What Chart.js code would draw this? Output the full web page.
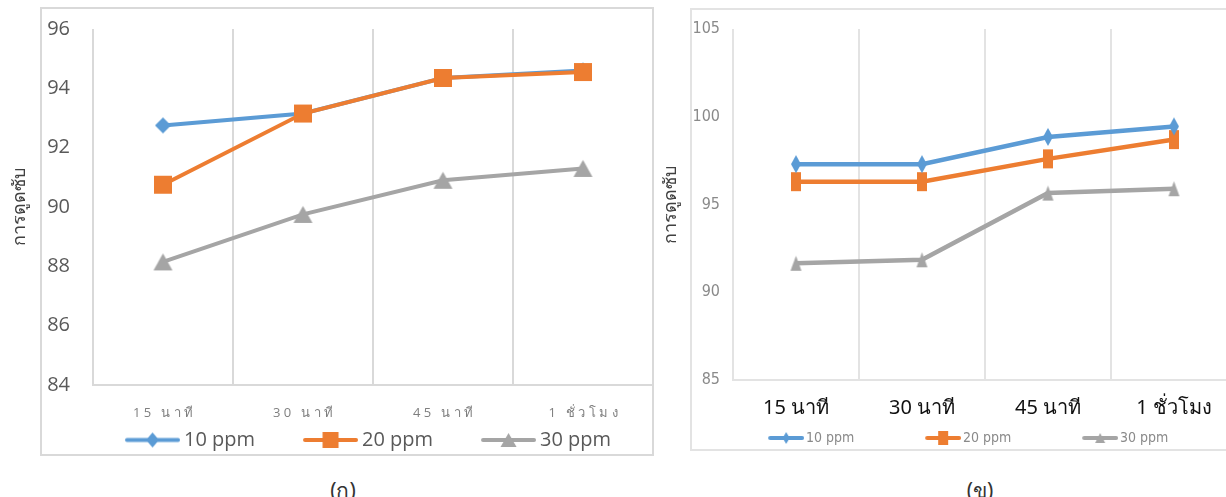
<!DOCTYPE html>
<html>
<head>
<meta charset="utf-8">
<script src="https://cdn.jsdelivr.net/npm/chart.js@4.4.1/dist/chart.umd.min.js"></script>
<style>
html, body { margin: 0; padding: 0; background: #fff; overflow: hidden; width: 1226px; height: 497px; position: relative; }
.box { position: absolute; border: 2px solid #d9d9d9; box-sizing: border-box; }
canvas { position: absolute; top: 0; }
.cap { position: absolute; top: 474px; height: 26px; line-height: 26px; font: 21px 'Noto Sans', sans-serif; color: #333; transform: translateX(-50%); white-space: nowrap; }
</style>
</head>
<body>
<div class="box" style="left:40px;top:7px;width:614px;height:449px"></div>
<div class="box" style="left:690px;top:8px;width:560px;height:443px;border-color:#e3e3e3"></div>
<canvas id="chartA" width="654" height="470" style="left:0"></canvas>
<canvas id="chartB" width="623" height="470" style="left:615px"></canvas>
<div class="cap" style="left:343px">(ก)</div>
<div class="cap" style="left:980px">(ข)</div>
<script>
// shared
const categories = ['15 นาที', '30 นาที', '45 นาที', '1 ชั่วโมง'];
const seriesNames = ['10 ppm', '20 ppm', '30 ppm'];
const seriesColors = ['#5b9bd5', '#ed7d31', '#a5a5a5'];
const seriesShapes = ['diamond', 'square', 'triangle'];
const yTitle = 'การดูดซับ';

// (ก)
const a10 = [92.75, 93.15, 94.35, 94.6];
const a20 = [90.75, 93.15, 94.35, 94.55];
const a30 = [88.15, 89.75, 90.9, 91.3];
const aYTicks = [84, 86, 88, 90, 92, 94, 96];

// (ข)
const b10 = [97.3, 97.3, 98.85, 99.45];
const b20 = [96.3, 96.3, 97.6, 98.7];
const b30 = [91.65, 91.85, 95.65, 95.9];
const bYTicks = [85, 90, 95, 100, 105];

const sansFont = "'Open Sans', 'Noto Sans', sans-serif";
const narrowFont = "'Liberation Sans Narrow', 'DejaVu Sans Condensed', sans-serif";

function shape(g, kind, cx, cy, w, h) {
  g.beginPath();
  if (kind === 'diamond') {
    g.moveTo(cx, cy - h / 2); g.lineTo(cx + w / 2, cy); g.lineTo(cx, cy + h / 2); g.lineTo(cx - w / 2, cy);
  } else if (kind === 'square') {
    g.rect(cx - w / 2, cy - h / 2, w, h);
  } else {
    g.moveTo(cx, cy - h / 2); g.lineTo(cx + w / 2, cy + h / 2); g.lineTo(cx - w / 2, cy + h / 2);
  }
  g.closePath();
  g.fill();
}

function markerImg(kind, color, w, h) {
  const c = document.createElement('canvas');
  c.width = Math.ceil(w) + 2; c.height = Math.ceil(h) + 2;
  const g = c.getContext('2d');
  g.fillStyle = color;
  shape(g, kind, c.width / 2, c.height / 2, w, h);
  return c;
}

function legendImg(kind, color, W, lineLen, lw, mw, mh) {
  const H = Math.ceil(Math.max(mh, lw)) + 2;
  const c = document.createElement('canvas');
  c.width = W; c.height = H;
  const g = c.getContext('2d');
  const x0 = W - lineLen + lw / 2, x1 = W - lw / 2;
  g.strokeStyle = color; g.lineWidth = lw; g.lineCap = 'round';
  g.beginPath(); g.moveTo(x0, H / 2); g.lineTo(x1, H / 2); g.stroke();
  g.fillStyle = color;
  shape(g, kind, (x0 + x1) / 2, H / 2, mw, mh);
  return c;
}

// works out legend box width and left padding so the items land where they should
function fitLegend(o) {
  const m = document.createElement('canvas').getContext('2d');
  m.font = o.fs + 'px ' + o.family;
  const tw = seriesNames.map(t => m.measureText(t).width);
  const bw = o.spacing - tw[0] - o.fs / 2 - o.pad;
  const rowW = tw.reduce((s, t) => s + bw + o.fs / 2 + t + o.pad, 0);
  const x0 = o.text0 - bw - o.fs / 2;
  const left = 2 * x0 - o.pad - o.right + rowW;
  const iconW = Math.round(bw + o.fs - 2 * o.gap);
  return { bw, left, iconW };
}

const seg = new Intl.Segmenter('th', { granularity: 'grapheme' });
function spaced(s) {
  return Array.from(seg.segment(s), p => p.segment).join(' ');
}

function noPad(s) {
  s.paddingLeft = s.paddingRight = s.paddingTop = s.paddingBottom = 0;
}

function makeChart(id, o) {
  const L = fitLegend({ family: o.legendFont, fs: o.legendSize, pad: 10, text0: o.text0, spacing: o.spacing, right: o.plotRight, gap: o.legendGap });
  const icons = seriesColors.map((c, i) => legendImg(seriesShapes[i], c, L.iconW, o.legendLine, o.legendLw, o.legendMarks[i][0], o.legendMarks[i][1]));
  const legendH = o.legendSize + 10 + 10;
  const xH = o.legendBottom - legendH - o.plotBottom;
  const titleLh = o.titleSize * 1.2;

  const datasets = o.series.map((data, i) => ({
    label: seriesNames[i],
    data: data,
    borderColor: seriesColors[i],
    backgroundColor: seriesColors[i],
    borderWidth: o.lineWidth,
    pointStyle: markerImg(seriesShapes[i], seriesColors[i], o.marks[i][0], o.marks[i][1]),
    pointRadius: 6,
    pointHoverRadius: 6,
    tension: 0,
    fill: false,
    order: o.orders[i]
  }));

  return new Chart(document.getElementById(id), {
    type: 'line',
    data: { labels: categories, datasets: datasets },
    options: {
      responsive: false,
      animation: false,
      events: [],
      layout: {
        autoPadding: false,
        padding: { left: L.left, right: o.canvasW - o.plotRight, top: o.plotTop, bottom: o.canvasH - o.legendBottom }
      },
      plugins: {
        legend: {
          position: 'bottom',
          fullSize: true,
          align: 'center',
          labels: {
            usePointStyle: true,
            pointStyleWidth: L.bw,
            padding: 10,
            color: o.legendColor,
            font: { family: o.legendFont, size: o.legendSize },
            generateLabels: chart => chart.data.datasets.map((d, i) => ({
              text: d.label,
              pointStyle: icons[i],
              fillStyle: d.borderColor,
              strokeStyle: d.borderColor,
              lineWidth: 0,
              hidden: false,
              datasetIndex: i,
              fontColor: o.legendColor
            }))
          }
        },
        tooltip: { enabled: false }
      },
      scales: {
        x: {
          offset: true,
          grid: { display: true, offset: true, color: o.gridColor, lineWidth: 2, drawTicks: false },
          border: { display: true, color: o.gridColor, width: 2 },
          ticks: {
            padding: o.xTickPad,
            color: o.xTickColor,
            font: { family: o.xTickFont, size: o.xTickSize },
            maxRotation: 0,
            autoSkip: false,
            callback: function (v) {
              const s = this.getLabelForValue(v);
              return o.spacedTicks ? spaced(s) : s;
            }
          },
          afterFit: s => { s.height = xH; noPad(s); }
        },
        y: {
          min: o.yTicks[0],
          max: o.yTicks[o.yTicks.length - 1],
          grid: { display: false, drawTicks: false },
          border: { display: false },
          ticks: {
            stepSize: o.yTicks[1] - o.yTicks[0],
            padding: o.yTickPad,
            color: o.yTickColor,
            font: { family: o.yTickFont, size: o.yTickSize }
          },
          title: {
            display: true,
            text: yTitle,
            color: '#404040',
            font: { family: sansFont, size: o.titleSize },
            padding: { top: o.titleX - L.left - titleLh / 2, bottom: 0 }
          },
          afterFit: s => { s.width = o.plotLeft - L.left; noPad(s); }
        }
      }
    }
  });
}

makeChart('chartA', {
  series: [a10, a20, a30],
  orders: [2, 1, 3],
  yTicks: aYTicks,
  canvasW: 654, canvasH: 470,
  plotLeft: 93, plotRight: 653, plotTop: 29, plotBottom: 385,
  legendBottom: 460,
  legendFont: sansFont, legendSize: 20, legendColor: '#595959',
  text0: 184, spacing: 178, legendGap: 4, legendLine: 55, legendLw: 4,
  legendMarks: [[13, 15], [16, 16], [16, 14]],
  marks: [[16, 16], [18, 18], [19, 17]],
  lineWidth: 4,
  gridColor: '#d9d9d9',
  xTickPad: 20, xTickColor: '#7f7f7f', xTickFont: sansFont, xTickSize: 13, spacedTicks: true,
  yTickPad: 23, yTickColor: '#595959', yTickFont: sansFont, yTickSize: 20,
  titleSize: 18, titleX: 20
});

makeChart('chartB', {
  series: [b10, b20, b30],
  orders: [1, 2, 3],
  yTicks: bYTicks,
  canvasW: 623, canvasH: 470,
  plotLeft: 118, plotRight: 622, plotTop: 29, plotBottom: 380,
  legendBottom: 455,
  legendFont: narrowFont, legendSize: 14, legendColor: '#8a8a8a',
  text0: 191, spacing: 157, legendGap: 2, legendLine: 36, legendLw: 4,
  legendMarks: [[7, 12], [10, 14], [10, 10]],
  marks: [[10, 18], [10, 19], [11, 15]],
  lineWidth: 4.5,
  gridColor: '#e3e3e3',
  xTickPad: 16, xTickColor: '#111111', xTickFont: "'Noto Sans', sans-serif", xTickSize: 20, spacedTicks: false,
  yTickPad: 13, yTickColor: '#8a8a8a', yTickFont: narrowFont, yTickSize: 16,
  titleSize: 18, titleX: 56
});
</script>
</body>
</html>
